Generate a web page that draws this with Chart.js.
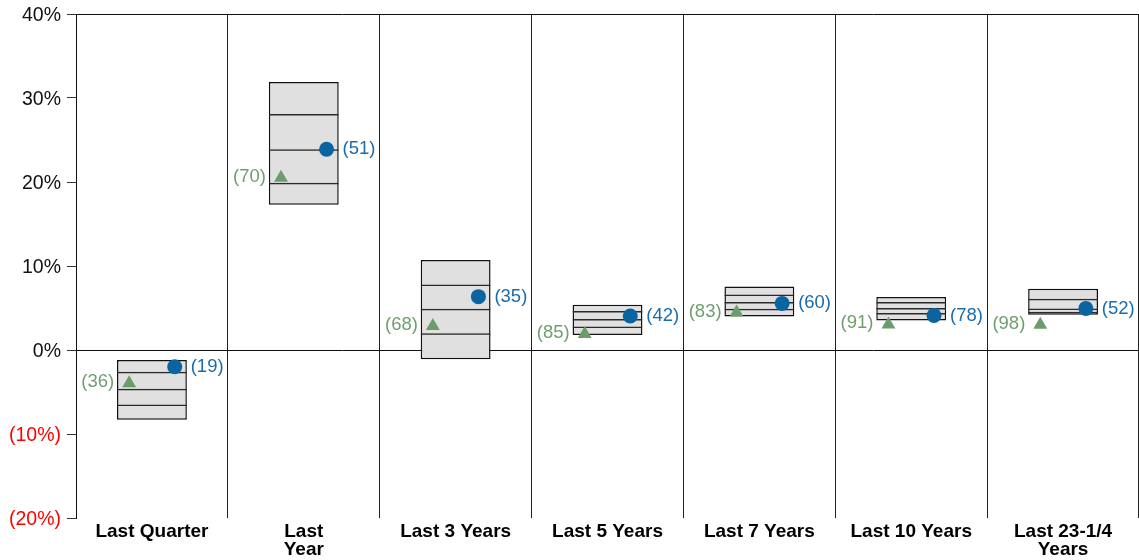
<!DOCTYPE html>
<html>
<head>
<meta charset="utf-8">
<script src="https://cdn.jsdelivr.net/npm/chart.js@4.4.1/dist/chart.umd.min.js"></script>
<style>
  html, body { margin: 0; padding: 0; background: #fff; overflow: hidden; }
  #wrap { width: 1139px; height: 560px; position: relative; }
</style>
</head>
<body>
<div id="wrap"><canvas id="c"></canvas></div>
<script>
const categories = ['Last Quarter', ['Last', 'Year'], 'Last 3 Years', 'Last 5 Years', 'Last 7 Years', 'Last 10 Years', ['Last 23-1/4', 'Years']];
const boxTop    = [-1.2, 31.9, 10.7, 5.4, 7.55, 6.3, 7.3];
const pct75     = [-2.6, 28.1, 7.8, 4.65, 6.6, 5.7, 6.1];
const median    = [-4.6, 23.9, 4.9, 3.7, 5.7, 5.0, 4.95];
const pct25     = [-6.5, 19.9, 2.0, 2.8, 4.9, 4.4, 4.55];
const boxBottom = [-8.3, 17.3, -1.1, 1.8, 4.0, 3.5, 4.2];
const portfolio      = [-2.0, 23.9, 6.35, 4.05, 5.55, 4.1, 4.95];
const portfolioRanks = [19, 51, 35, 42, 60, 78, 52];
const indexVals      = [-3.95, 20.5, 2.85, 1.9, 4.45, 3.05, 3.0];
const indexRanks     = [36, 70, 68, 85, 83, 91, 98];
const yTicks = [-20, -10, 0, 10, 20, 30, 40];

const FONT = "'Liberation Sans', Arial, sans-serif";
const BLUE = '#0b64a2';
const BLUE_TXT = '#1a6cad';
const GREEN = '#6b9c6b';
const GREEN_TXT = '#6f9f6f';
const OFFSET = 0.15;

function segs(lo, hi) { return lo.map((v, i) => [v, hi[i]]); }

const segStyle = {
  type: 'bar', xAxisID: 'x', yAxisID: 'y', grouped: false,
  categoryPercentage: 1, barPercentage: 0.46,
  backgroundColor: 'rgba(0,0,0,0)', borderColor: '#2a2a2a',
  borderWidth: { top: 1.5, bottom: 0, left: 0, right: 0 }, borderSkipped: false, order: 2
};

const labelPlugin = {
  id: 'pointLabels',
  afterDatasetsDraw(chart) {
    const ctx = chart.ctx;
    ctx.save();
    ctx.font = '18.5px ' + FONT;
    ctx.textBaseline = 'middle';
    const pm = chart.getDatasetMeta(0);
    ctx.fillStyle = BLUE_TXT; ctx.textAlign = 'left';
    pm.data.forEach((el, i) => ctx.fillText('(' + portfolioRanks[i] + ')', el.x + 16, el.y));
    const im = chart.getDatasetMeta(1);
    ctx.fillStyle = GREEN_TXT; ctx.textAlign = 'right';
    im.data.forEach((el, i) => ctx.fillText('(' + indexRanks[i] + ')', el.x - 15, el.y - 1));
    ctx.restore();
  }
};

new Chart(document.getElementById('c'), {
  data: {
    labels: categories,
    datasets: [
      { type: 'line', label: 'Portfolio', xAxisID: 'xp', yAxisID: 'y', showLine: false,
        data: portfolio.map((v, i) => ({ x: i + OFFSET, y: v })),
        pointStyle: 'circle', pointRadius: 7.5, pointBackgroundColor: BLUE, pointBorderColor: BLUE, pointBorderWidth: 0, order: 0 },
      { type: 'line', label: 'Index', xAxisID: 'xp', yAxisID: 'y', showLine: false,
        data: indexVals.map((v, i) => ({ x: i - OFFSET, y: v })),
        pointStyle: 'triangle', pointRadius: 8, pointBackgroundColor: GREEN, pointBorderColor: GREEN, pointBorderWidth: 0, order: 0 },
      Object.assign({ label: 's1', data: segs(boxBottom, pct25) }, segStyle),
      Object.assign({ label: 's2', data: segs(pct25, median) }, segStyle),
      Object.assign({ label: 's3', data: segs(median, pct75) }, segStyle),
      { type: 'bar', label: 'Box', xAxisID: 'x', yAxisID: 'y', grouped: false,
        categoryPercentage: 1, barPercentage: 0.46,
        data: segs(boxBottom, boxTop), backgroundColor: '#e0e0e0', borderColor: '#111',
        borderWidth: 1.5, borderSkipped: false, order: 3 }
    ]
  },
  options: {
    responsive: true, maintainAspectRatio: false, animation: false,
    layout: { autoPadding: false, padding: { top: 14, right: 0, left: 0, bottom: 0 } },
    plugins: { legend: { display: false }, tooltip: { enabled: false } },
    scales: {
      x: {
        type: 'category', position: 'bottom', offset: true,
        grid: { offset: true, color: '#222', lineWidth: 1, drawTicks: false },
        border: { display: false },
        ticks: { color: '#000', font: { family: FONT, size: 19, weight: 'bold', lineHeight: 0.95 }, padding: 5, maxRotation: 0, autoSkip: false },
        afterFit(s) { s.height = 42; }
      },
      xp: {
        type: 'linear', display: false, min: -0.5, max: 6.5,
        ticks: { display: false }, grid: { display: false }
      },
      y: {
        type: 'linear', min: -20, max: 40,
        afterBuildTicks(s) { s.ticks = yTicks.map(v => ({ value: v })); },
        grid: {
          color: c => (c.tick && (c.tick.value === 0 || c.tick.value === 40)) ? '#111' : 'rgba(0,0,0,0)',
          tickColor: '#333', tickLength: 9, lineWidth: 1
        },
        border: { display: true, color: '#111', width: 1 },
        ticks: {
          font: { family: FONT, size: 19.5, lineHeight: 0.8 }, padding: 6, labelOffset: 1.5,
          color: c => c.tick.value < 0 ? '#ff0000' : '#111',
          callback: v => v < 0 ? '(' + (-v) + '%)' : v + '%'
        },
        afterFit(s) { s.width = 76; }
      }
    }
  },
  plugins: [labelPlugin]
});
</script>
</body>
</html>
